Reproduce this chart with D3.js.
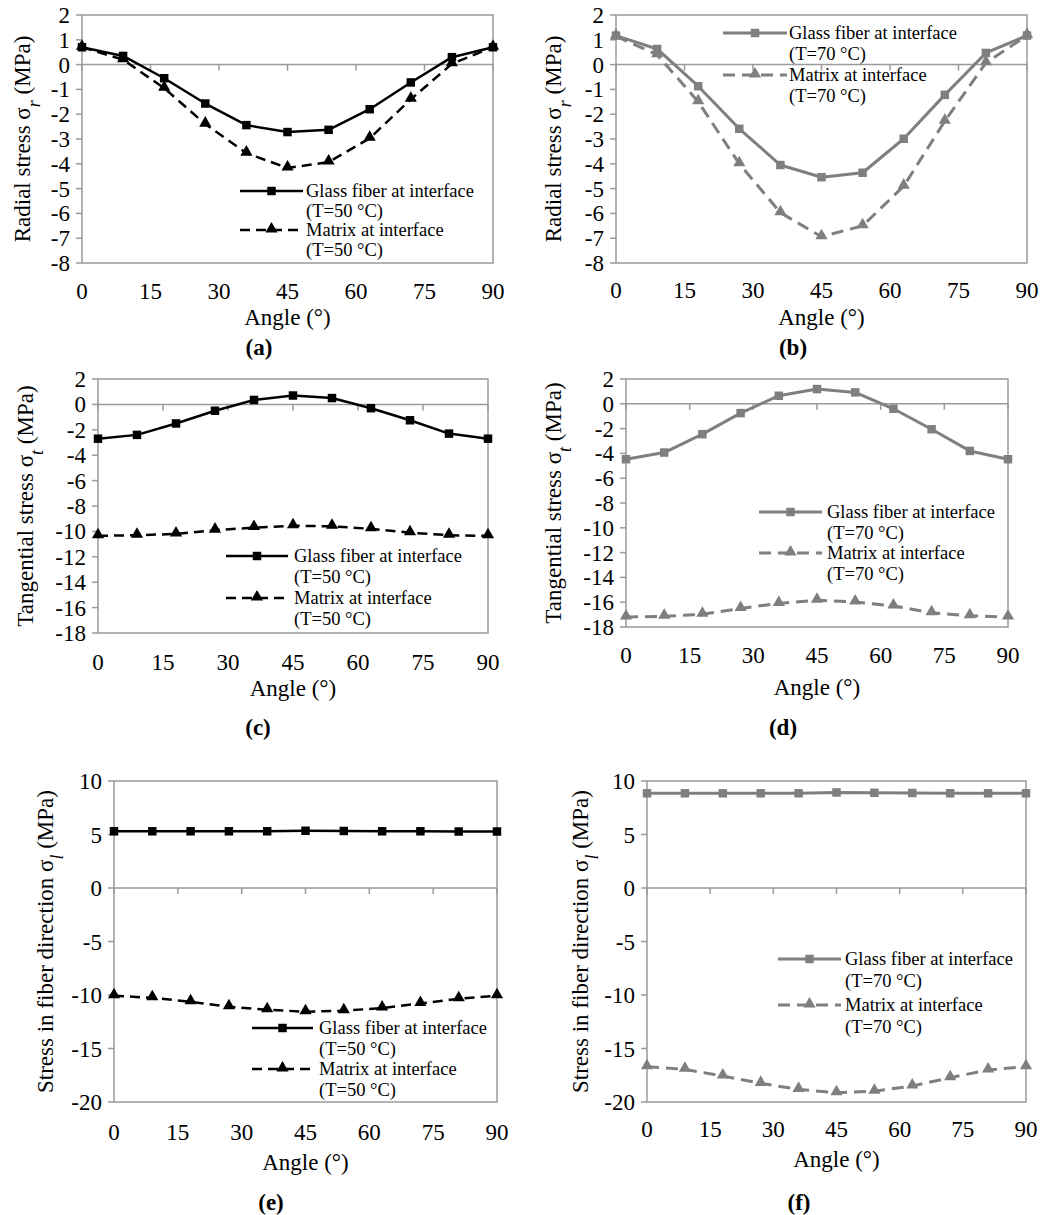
<!DOCTYPE html>
<html lang="en">
<head>
  <meta charset="UTF-8">
  <title>Interface stresses vs angle</title>
  <script src="https://d3js.org/d3.v7.min.js"></script>
  <style>
    body {
      margin: 0;
      padding: 0;
      background: #fff;
    }

    .frame {
      fill: none;
      stroke: #9a9a9a;
      stroke-width: 1.5px;
    }

    .zero, .tick-mark {
      stroke: #9a9a9a;
      stroke-width: 1.5px;
    }

    .series {
      fill: none;
      stroke-linejoin: round;
    }
  </style>
</head>
<body>
  <div id="chart"></div>

  <script>
    // angles at which the stresses were evaluated
    const angles = [0, 9, 18, 27, 36, 45, 54, 63, 72, 81, 90];
    const xTicks = [0, 15, 30, 45, 60, 75, 90];

    // radial stress
    const radialFiber50 = [0.7, 0.35, -0.55, -1.57, -2.44, -2.72, -2.63, -1.8, -0.72, 0.3, 0.7];
    const radialMatrix50 = [0.7, 0.2, -0.95, -2.4, -3.57, -4.17, -3.93, -2.97, -1.4, 0.03, 0.7];
    const radialFiber70 = [1.17, 0.63, -0.87, -2.59, -4.05, -4.54, -4.36, -2.99, -1.22, 0.47, 1.17];
    const radialMatrix70 = [1.14, 0.4, -1.5, -4.0, -5.97, -6.94, -6.5, -4.9, -2.28, 0.07, 1.17];

    // tangential stress
    const tangFiber50 = [-2.7, -2.4, -1.5, -0.5, 0.35, 0.7, 0.5, -0.3, -1.25, -2.3, -2.7];
    const tangMatrix50 = [-10.35, -10.3, -10.2, -9.9, -9.7, -9.55, -9.6, -9.8, -10.1, -10.3, -10.35];
    const tangFiber70 = [-4.47, -3.93, -2.45, -0.75, 0.65, 1.19, 0.92, -0.4, -2.05, -3.8, -4.47];
    const tangMatrix70 = [-17.2, -17.14, -16.98, -16.5, -16.1, -15.85, -15.98, -16.3, -16.85, -17.1, -17.2];

    // stress in fiber direction
    const axialFiber50 = [5.3, 5.3, 5.3, 5.3, 5.3, 5.35, 5.33, 5.3, 5.3, 5.28, 5.28];
    const axialMatrix50 = [-10.07, -10.26, -10.63, -11.1, -11.38, -11.56, -11.47, -11.22, -10.79, -10.35, -10.07];
    const axialFiber70 = [8.85, 8.85, 8.85, 8.85, 8.85, 8.93, 8.9, 8.88, 8.85, 8.85, 8.85];
    const axialMatrix70 = [-16.7, -16.95, -17.57, -18.26, -18.82, -19.13, -19.0, -18.5, -17.73, -17.0, -16.7];

    const radialTicks = [2, 1, 0, -1, -2, -3, -4, -5, -6, -7, -8];
    const tangTicks = [2, 0, -2, -4, -6, -8, -10, -12, -14, -16, -18];
    const axialTicks = [10, 5, 0, -5, -10, -15, -20];

    const black = "#000";
    const grey = "#7f7f7f";
    const serif = "'Liberation Serif', 'Times New Roman', 'DejaVu Serif', serif";

    const panels = [
      { id: "(a)", fiber: radialFiber50, matrix: radialMatrix50, yTicks: radialTicks, temp: 50, color: black,
        title: ["Radial stress σ", "r", " (MPa)"],
        box: [82, 493, 15, 263], yTitleX: 22, xTickY: 299, angleY: 325, labelX: 259, labelY: 355,
        leg: [240, 303, 306, [191, 211, 230, 250]] },
      { id: "(b)", fiber: radialFiber70, matrix: radialMatrix70, yTicks: radialTicks, temp: 70, color: grey,
        title: ["Radial stress σ", "r", " (MPa)"],
        box: [616, 1027, 15, 263], yTitleX: 553, xTickY: 298, angleY: 325, labelX: 793, labelY: 355,
        leg: [723, 787, 789, [33, 54, 75, 96]] },
      { id: "(c)", fiber: tangFiber50, matrix: tangMatrix50, yTicks: tangTicks, temp: 50, color: black,
        title: ["Tangential stress σ", "t", " (MPa)"],
        box: [98, 488, 379, 633], yTitleX: 25, xTickY: 670, angleY: 696, labelX: 258, labelY: 735,
        leg: [226, 288, 294, [556, 577, 598, 619]] },
      { id: "(d)", fiber: tangFiber70, matrix: tangMatrix70, yTicks: tangTicks, temp: 70, color: grey,
        title: ["Tangential stress σ", "t", " (MPa)"],
        box: [626, 1008, 379, 627], yTitleX: 553, xTickY: 663, angleY: 695, labelX: 783, labelY: 735,
        leg: [759, 822, 827, [512, 533, 553, 574]] },
      { id: "(e)", fiber: axialFiber50, matrix: axialMatrix50, yTicks: axialTicks, temp: 50, color: black,
        title: ["Stress in fiber direction σ", "l", " (MPa)"],
        box: [114, 497, 781, 1102], yTitleX: 45, xTickY: 1140, angleY: 1170, labelX: 271, labelY: 1210,
        leg: [252, 313, 319, [1028, 1049, 1069, 1090]] },
      { id: "(f)", fiber: axialFiber70, matrix: axialMatrix70, yTicks: axialTicks, temp: 70, color: grey,
        title: ["Stress in fiber direction σ", "l", " (MPa)"],
        box: [647, 1026, 781, 1102], yTitleX: 580, xTickY: 1137, angleY: 1167, labelX: 799, labelY: 1210,
        leg: [778, 841, 845, [959, 981, 1005, 1027]] }
    ];

    const svg = d3.select("#chart")
      .append("svg")
      .attr("width", 1043)
      .attr("height", 1215)
      .attr("font-family", serif);

    const square = d3.symbol().type(d3.symbolSquare).size(72);
    const triangle = d3.symbol().type(d3.symbolTriangle).size(64);

    panels.forEach(p => {
      const [left, right, top, bottom] = p.box;
      const x = d3.scaleLinear().domain([0, 90]).range([left, right]);
      const y = d3.scaleLinear()
        .domain([d3.min(p.yTicks), d3.max(p.yTicks)])
        .range([bottom, top]);

      const g = svg.append("g");
      const lw = p.color === grey ? 3 : 2.5;
      const dash = p.color === grey ? "12,7" : "10,6";

      // plot frame
      g.append("rect")
        .attr("class", "frame")
        .attr("x", left)
        .attr("y", top)
        .attr("width", right - left)
        .attr("height", bottom - top);

      // y axis ticks and labels
      g.selectAll(".ytick")
        .data(p.yTicks)
        .join("line")
        .attr("class", "tick-mark")
        .attr("x1", left - 6)
        .attr("x2", left)
        .attr("y1", d => y(d))
        .attr("y2", d => y(d));

      g.selectAll(".ylabel")
        .data(p.yTicks)
        .join("text")
        .attr("x", left - 12)
        .attr("y", d => y(d))
        .attr("dy", "0.35em")
        .attr("text-anchor", "end")
        .attr("font-family", serif)
        .style("font-size", "23px")
        .text(d => d);

      // horizontal axis through zero, ticks hang below it
      g.append("line")
        .attr("class", "zero")
        .attr("x1", left)
        .attr("x2", right)
        .attr("y1", y(0))
        .attr("y2", y(0));

      g.selectAll(".xtick")
        .data(xTicks)
        .join("line")
        .attr("class", "tick-mark")
        .attr("x1", d => x(d))
        .attr("x2", d => x(d))
        .attr("y1", y(0))
        .attr("y2", y(0) + 6);

      g.selectAll(".xlabel")
        .data(xTicks)
        .join("text")
        .attr("x", d => x(d))
        .attr("y", p.xTickY)
        .attr("text-anchor", "middle")
        .attr("font-family", serif)
        .style("font-size", "23px")
        .text(d => d);

      g.append("text")
        .attr("x", (left + right) / 2)
        .attr("y", p.angleY)
        .attr("text-anchor", "middle")
        .attr("font-family", serif)
        .style("font-size", "23px")
        .text("Angle (°)");

      g.append("text")
        .attr("x", p.labelX)
        .attr("y", p.labelY)
        .attr("text-anchor", "middle")
        .attr("font-family", serif)
        .style("font-size", "23px")
        .style("font-weight", "bold")
        .text(p.id);

      const yt = g.append("text")
        .attr("transform", `translate(${p.yTitleX},${(top + bottom) / 2}) rotate(-90)`)
        .attr("dy", "0.35em")
        .attr("text-anchor", "middle")
        .attr("font-family", serif)
        .style("font-size", "23px");
      yt.append("tspan").text(p.title[0]);
      yt.append("tspan")
        .attr("baseline-shift", "sub")
        .style("font-style", "italic")
        .style("font-size", "18px")
        .text(p.title[1]);
      yt.append("tspan").text(p.title[2]);

      // series
      const line = d3.line()
        .x((d, i) => x(angles[i]))
        .y(d => y(d));

      g.append("path")
        .datum(p.matrix)
        .attr("class", "series")
        .attr("stroke", p.color)
        .attr("stroke-width", lw)
        .attr("stroke-dasharray", dash)
        .attr("d", line);

      g.append("path")
        .datum(p.fiber)
        .attr("class", "series")
        .attr("stroke", p.color)
        .attr("stroke-width", lw)
        .attr("d", line);

      g.selectAll(".mtri")
        .data(p.matrix)
        .join("path")
        .attr("transform", (d, i) => `translate(${x(angles[i])},${y(d) - 1})`)
        .attr("d", triangle)
        .attr("fill", p.color);

      g.selectAll(".fsq")
        .data(p.fiber)
        .join("path")
        .attr("transform", (d, i) => `translate(${x(angles[i])},${y(d)})`)
        .attr("d", square)
        .attr("fill", p.color);

      // legend
      const [lx1, lx2, tx, rows] = p.leg;
      const names = ["Glass fiber at interface", `(T=${p.temp} °C)`, "Matrix at interface", `(T=${p.temp} °C)`];

      g.append("line")
        .attr("x1", lx1).attr("x2", lx2)
        .attr("y1", rows[0]).attr("y2", rows[0])
        .attr("stroke", p.color)
        .attr("stroke-width", lw);
      g.append("path")
        .attr("transform", `translate(${(lx1 + lx2) / 2},${rows[0]})`)
        .attr("d", square)
        .attr("fill", p.color);

      g.append("line")
        .attr("x1", lx1).attr("x2", lx2)
        .attr("y1", rows[2]).attr("y2", rows[2])
        .attr("stroke", p.color)
        .attr("stroke-width", lw)
        .attr("stroke-dasharray", dash);
      g.append("path")
        .attr("transform", `translate(${(lx1 + lx2) / 2},${rows[2] - 1})`)
        .attr("d", triangle)
        .attr("fill", p.color);

      g.selectAll(".legtext")
        .data(names)
        .join("text")
        .attr("x", tx)
        .attr("y", (d, i) => rows[i])
        .attr("dy", "0.35em")
        .attr("font-family", serif)
        .style("font-size", "18.5px")
        .text(d => d);
    });
  </script>
</body>
</html>
